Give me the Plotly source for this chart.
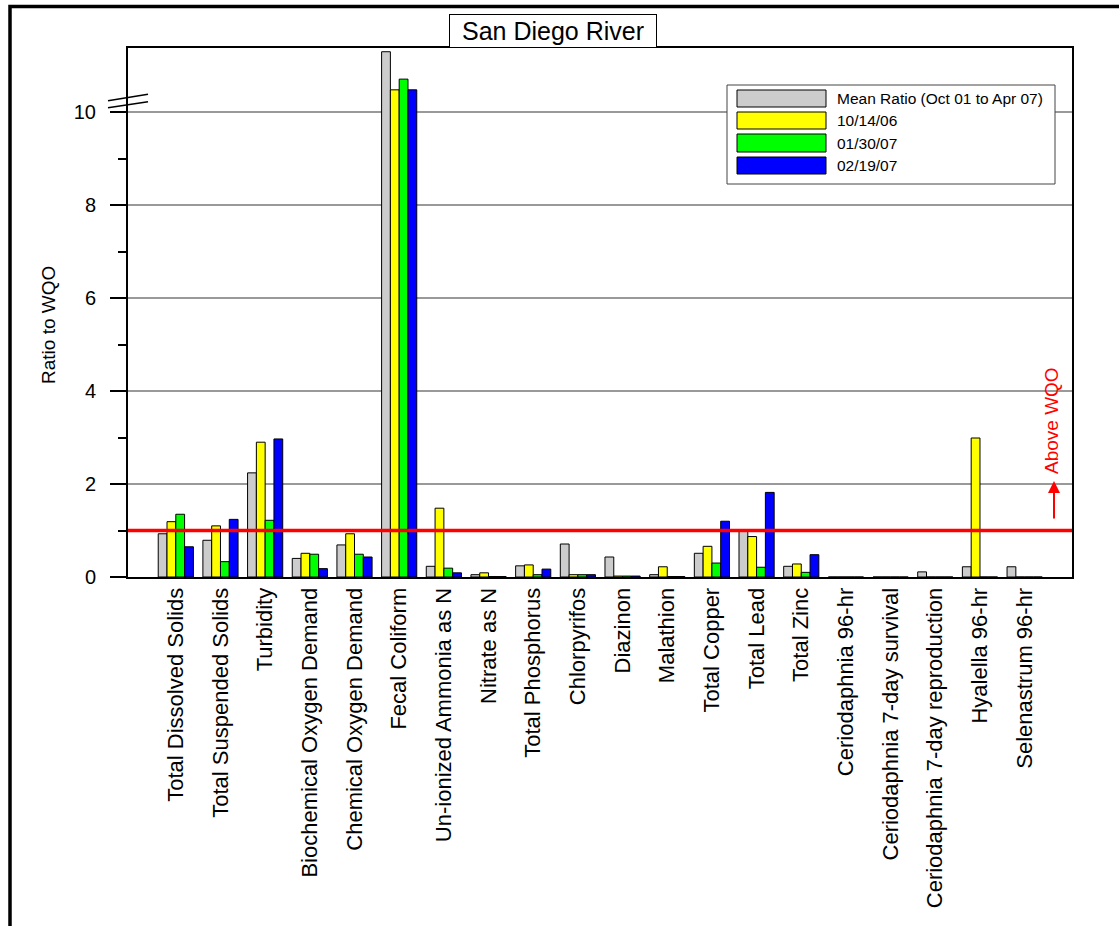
import plotly.graph_objects as go

categories = [
    "Total Dissolved Solids", "Total Suspended Solids", "Turbidity",
    "Biochemical Oxygen Demand", "Chemical Oxygen Demand", "Fecal Coliform",
    "Un-ionized Ammonia as N", "Nitrate as N", "Total Phosphorus",
    "Chlorpyrifos", "Diazinon", "Malathion", "Total Copper", "Total Lead",
    "Total Zinc", "Ceriodaphnia 96-hr", "Ceriodaphnia 7-day survival",
    "Ceriodaphnia 7-day reproduction", "Hyalella 96-hr", "Selenastrum 96-hr",
]

mean_ratio = [0.93, 0.79, 2.24, 0.40, 0.69, 11.3, 0.23, 0.05, 0.24, 0.71,
              0.43, 0.05, 0.51, 0.98, 0.23, 0.0, 0.0, 0.11, 0.22, 0.22]
d_101406 = [1.19, 1.10, 2.90, 0.51, 0.93, 10.48, 1.48, 0.09, 0.26, 0.05,
            0.02, 0.22, 0.66, 0.87, 0.28, 0.0, 0.0, 0.0, 2.99, 0.0]
d_013007 = [1.35, 0.33, 1.22, 0.49, 0.49, 10.71, 0.19, 0.01, 0.05, 0.05,
            0.02, 0.01, 0.30, 0.21, 0.10, 0.0, 0.0, 0.0, 0.0, 0.0]
d_021907 = [0.65, 1.24, 2.97, 0.18, 0.43, 10.48, 0.09, 0.01, 0.17, 0.05,
            0.02, 0.01, 1.20, 1.82, 0.48, 0.0, 0.0, 0.0, 0.0, 0.0]

series_names = ["Mean Ratio (Oct 01 to Apr 07)", "10/14/06", "01/30/07", "02/19/07"]
series_colors = ["#CCCCCC", "#FFFF00", "#00FF00", "#0000FF"]
series_values = [mean_ratio, d_101406, d_013007, d_021907]

y_ticks = [0, 2, 4, 6, 8, 10]
y_minor = [1, 3, 5, 7, 9]
WQO = 1.0

W, H = 1119, 926
ML, MR, MT, MB = 128, 47, 48, 349
PW, PH = W - ML - MR, H - MT - MB


def px(x):
    return (x - ML) / PW


def py(y):
    return (H - MB - y) / PH


FONT = "Liberation Sans, Arial, sans-serif"

fig = go.Figure()
for name, color, vals in zip(series_names, series_colors, series_values):
    fig.add_trace(go.Bar(
        x=categories, y=vals, name=name,
        marker=dict(color=color, line=dict(color="black", width=1)),
        showlegend=False,
    ))

shapes = []
# WQO line
shapes.append(dict(type="line", xref="paper", yref="y", x0=0, x1=1, y0=WQO, y1=WQO,
                   line=dict(color="red", width=3.5), layer="above"))
# axis break marks
shapes.append(dict(type="line", xref="paper", yref="paper",
                   x0=px(108), x1=px(148), y0=py(100.7), y1=py(94.3),
                   line=dict(color="black", width=1.5)))
shapes.append(dict(type="line", xref="paper", yref="paper",
                   x0=px(108), x1=px(148), y0=py(107.7), y1=py(101.7),
                   line=dict(color="black", width=1.5)))
# outer page frame
shapes.append(dict(type="path", xref="paper", yref="paper",
                   path=f"M {px(10)},{py(930)} L {px(10)},{py(6.5)} L {px(1125)},{py(6.5)}",
                   line=dict(color="black", width=3.5)))
# legend box
shapes.append(dict(type="rect", xref="paper", yref="paper",
                   x0=px(727), x1=px(1055), y0=py(184), y1=py(85),
                   line=dict(color="#444444", width=1), fillcolor="white", layer="above"))

annotations = []
rows = [(90, 107), (112, 129), (134, 152), (157, 174)]
for (t, b), name, color in zip(rows, series_names, series_colors):
    shapes.append(dict(type="rect", xref="paper", yref="paper",
                       x0=px(737), x1=px(826), y0=py(b), y1=py(t),
                       line=dict(color="black", width=1), fillcolor=color, layer="above"))
    annotations.append(dict(xref="paper", yref="paper", x=px(835), y=py((t + b) / 2),
                            xanchor="left", yanchor="middle", text=name, showarrow=False,
                            font=dict(family=FONT, size=15.5, color="black")))

# title box
annotations.append(dict(xref="paper", yref="paper", x=px(553), y=py(31),
                        xanchor="center", yanchor="middle", text="San Diego River",
                        showarrow=False, font=dict(family=FONT, size=25, color="black"),
                        bordercolor="black", borderwidth=1, bgcolor="white",
                        width=202, height=28, borderpad=2))
# y axis title
annotations.append(dict(xref="paper", yref="paper", x=px(48), y=py(325),
                        xanchor="center", yanchor="middle", text="Ratio to WQO",
                        textangle=-90, showarrow=False,
                        font=dict(family=FONT, size=19, color="black")))
# Above WQO
annotations.append(dict(xref="paper", yref="paper", x=px(1051), y=py(421),
                        xanchor="center", yanchor="middle", text="Above WQO",
                        textangle=-90, showarrow=False,
                        font=dict(family=FONT, size=19, color="red")))
annotations.append(dict(xref="paper", yref="paper", x=px(1054), y=py(481),
                        text="", showarrow=True, ax=0, ay=39, arrowhead=2,
                        arrowsize=1.2, arrowwidth=2, arrowcolor="red"))

fig.update_layout(
    width=W, height=H,
    margin=dict(l=ML, r=MR, t=MT, b=MB, pad=0),
    paper_bgcolor="white", plot_bgcolor="white",
    barmode="group", bargap=0.213, bargroupgap=0,
    font=dict(family=FONT, color="black"),
    shapes=shapes, annotations=annotations,
    xaxis=dict(
        type="category",
        tickangle=-90, tickfont=dict(family=FONT, size=22),
        showline=True, linecolor="black", linewidth=2, mirror=True,
        ticks="", showgrid=False, ticklabelstandoff=0,
    ),
    yaxis=dict(
        range=[0, 11.38], tickvals=y_ticks, ticktext=[str(v) for v in y_ticks],
        tickfont=dict(family=FONT, size=20),
        showline=True, linecolor="black", linewidth=2, mirror=True,
        ticks="outside", ticklen=16, tickwidth=1.5, tickcolor="black",
        showgrid=True, gridcolor="#999999", gridwidth=1.5,
        zeroline=False, ticklabelstandoff=10,
        minor=dict(tickvals=y_minor, ticks="outside", ticklen=8, tickwidth=1.5,
                   tickcolor="black", showgrid=False),
    ),
)
fig.update_xaxes(range=[-1.07, len(categories) - 1 + 1.06])

fig.write_html("out.html")
